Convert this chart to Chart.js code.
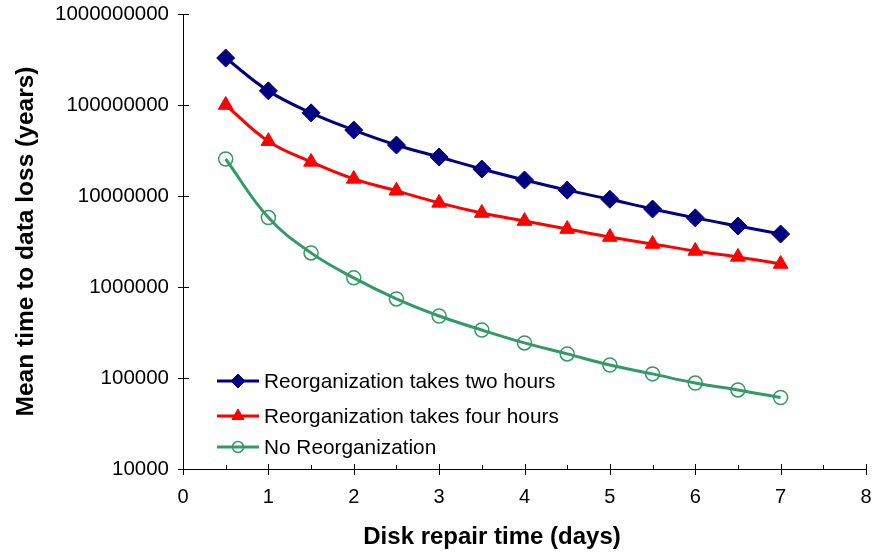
<!DOCTYPE html>
<html>
<head>
<meta charset="utf-8">
<script src="https://cdn.jsdelivr.net/npm/chart.js@4"></script>
<style>
  html, body { margin: 0; padding: 0; background: #fff; }
  #wrap { width: 872px; height: 554px; }
</style>
</head>
<body>
<div id="wrap"><canvas id="mainChart" width="872" height="554"></canvas></div>
<script>
// Data
const repairDays = [0.5, 1, 1.5, 2, 2.5, 3, 3.5, 4, 4.5, 5, 5.5, 6, 6.5, 7];
const twoHours = [3.28e8, 1.43e8, 8.2e7, 5.3e7, 3.63e7, 2.68e7, 1.98e7, 1.5e7, 1.16e7, 9.2e6, 7.2e6, 5.75e6, 4.68e6, 3.82e6];
const fourHours = [1.0e8, 4.0e7, 2.37e7, 1.54e7, 1.14e7, 8.4e6, 6.5e6, 5.3e6, 4.33e6, 3.54e6, 2.97e6, 2.49e6, 2.14e6, 1.79e6];
const noReorg = [2.55e7, 5.8e6, 2.37e6, 1.26e6, 7.4e5, 4.8e5, 3.37e5, 2.43e5, 1.84e5, 1.39e5, 1.11e5, 8.8e4, 7.4e4, 6.1e4];
const seriesNames = ['Reorganization takes two hours', 'Reorganization takes four hours', 'No Reorganization'];
const yTicks = [1e4, 1e5, 1e6, 1e7, 1e8, 1e9];
const xTicks = [0, 1, 2, 3, 4, 5, 6, 7, 8];
const xTitle = 'Disk repair time (days)';

const font = 'Arial, "Liberation Sans", sans-serif';
const toPts = ys => repairDays.map((x, i) => ({ x: x, y: ys[i] }));

// Excel-style axes: ticks crossing the axis line, minor ticks on x, legend inside the plot
const axisPlugin = {
    id: 'axisTicks',
    afterDraw(chart) {
        const c = chart.ctx, xs = chart.scales.x, ys = chart.scales.y, a = chart.chartArea;
        c.save();
        c.strokeStyle = '#000';
        c.lineWidth = 1;
        c.beginPath();
        c.moveTo(a.left + 0.5, a.top);
        c.lineTo(a.left + 0.5, a.bottom + 0.5);
        c.lineTo(a.right, a.bottom + 0.5);
        yTicks.forEach(v => {
            const p = Math.round(ys.getPixelForValue(v)) + 0.5;
            c.moveTo(a.left - 5, p); c.lineTo(a.left + 6, p);
        });
        xTicks.forEach(v => {
            const p = Math.round(xs.getPixelForValue(v)) + 0.5;
            c.moveTo(p, a.bottom - 5); c.lineTo(p, a.bottom + 6);
            if (v < 8) {
                const m = Math.round(xs.getPixelForValue(v + 0.5)) + 0.5;
                c.moveTo(m, a.bottom - 4); c.lineTo(m, a.bottom + 1);
            }
        });
        c.stroke();

        // x axis title (sits left of the plot centre in the original)
        c.fillStyle = '#000';
        c.font = 'bold 24px ' + font;
        c.textAlign = 'center';
        c.textBaseline = 'middle';
        c.fillText(xTitle, 492, 537);

        const rows = [381, 416, 447];
        chart.data.datasets.forEach((ds, i) => {
            const y = rows[i];
            c.strokeStyle = ds.borderColor;
            c.lineWidth = 3;
            c.beginPath();
            c.moveTo(217, y); c.lineTo(259, y);
            c.stroke();
            c.fillStyle = ds.pointBackgroundColor;
            c.strokeStyle = ds.pointBorderColor;
            c.lineWidth = ds.pointBorderWidth;
            Chart.helpers.drawPoint(c, { pointStyle: ds.pointStyle, radius: ds.legendRadius, borderWidth: ds.pointBorderWidth }, 238, y);
            c.fillStyle = '#000';
            c.font = '20.8px ' + font;
            c.textBaseline = 'middle';
            c.textAlign = 'left';
            c.fillText(ds.label, 264, y + 1);
        });
        c.restore();
    }
};

const ctx = document.getElementById('mainChart').getContext('2d');
new Chart(ctx, {
    type: 'line',
    data: {
        datasets: [{
            label: seriesNames[0],
            data: toPts(twoHours),
            borderColor: '#000080',
            pointBackgroundColor: '#000080',
            pointBorderColor: '#000080',
            pointStyle: 'rectRot',
            pointRadius: 9,
            legendRadius: 7,
            pointBorderWidth: 1,
            borderWidth: 3,
            tension: 0.4
        }, {
            label: seriesNames[1],
            data: toPts(fourHours),
            borderColor: '#ff0000',
            pointBackgroundColor: '#ff0000',
            pointBorderColor: '#ff0000',
            pointStyle: 'triangle',
            pointRadius: 8.5,
            legendRadius: 7,
            pointBorderWidth: 1,
            borderWidth: 3,
            tension: 0.4
        }, {
            label: seriesNames[2],
            data: toPts(noReorg),
            borderColor: '#339966',
            pointBackgroundColor: 'rgba(255,255,255,0)',
            pointBorderColor: '#339966',
            pointStyle: 'circle',
            pointRadius: 7,
            legendRadius: 5.5,
            pointBorderWidth: 1.5,
            borderWidth: 3,
            tension: 0.4
        }]
    },
    options: {
        responsive: false,
        animation: false,
        layout: { autoPadding: false, padding: { top: 14, right: 6, left: 0, bottom: 0 } },
        plugins: {
            legend: { display: false },
            tooltip: { enabled: false }
        },
        scales: {
            x: {
                type: 'linear',
                min: 0, max: 8,
                afterBuildTicks: s => { s.ticks = xTicks.map(v => ({ value: v })); },
                afterFit: s => { s.height = 85; s.paddingLeft = 0; s.paddingRight = 0; },
                grid: { display: false, drawTicks: false },
                border: { display: false },
                ticks: { color: '#000', font: { family: font, size: 20 }, padding: 16, maxRotation: 0 },
                title: { display: false }
            },
            y: {
                type: 'logarithmic',
                min: 1e4, max: 1e9,
                afterBuildTicks: s => { s.ticks = yTicks.map(v => ({ value: v })); },
                afterFit: s => { s.width = 183; s.paddingTop = 0; s.paddingBottom = 0; },
                grid: { display: false, drawTicks: false },
                border: { display: false },
                ticks: { color: '#000', font: { family: font, size: 20.5 }, padding: 14, callback: v => String(v) },
                title: { display: true, text: 'Mean time to data loss (years)', color: '#000',
                         font: { family: font, size: 24.5, weight: 'bold' }, padding: { top: 12, bottom: 0 } }
            }
        }
    },
    plugins: [axisPlugin]
});
</script>
</body>
</html>
